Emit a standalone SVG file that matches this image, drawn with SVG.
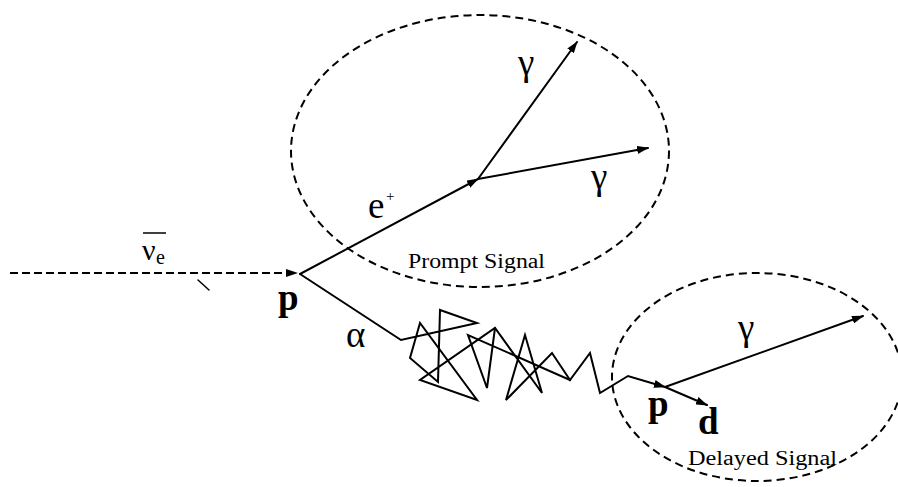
<svg xmlns="http://www.w3.org/2000/svg" width="898" height="487" viewBox="0 0 898 487">
<style>
.ln{fill:none;stroke:#000;stroke-width:2;stroke-linejoin:miter;stroke-linecap:round}
.dash{fill:none;stroke:#000;stroke-width:2;stroke-dasharray:8 5}
.lbl{font-family:"Liberation Serif","DejaVu Serif",serif;fill:#000}
.big{font-size:37px}
.small{font-size:20px}
</style>
<defs>
<marker id="ah" viewBox="0 0 12 8" refX="11" refY="4" markerWidth="12" markerHeight="8" markerUnits="userSpaceOnUse" orient="auto">
<path d="M0,0 L12,4 L0,8 Z" fill="#000"/>
</marker>
</defs>
<rect width="898" height="487" fill="#fff"/>
<g id="prompt-region">
<ellipse class="dash" cx="480" cy="151" rx="189" ry="136"/>
<text class="lbl small" x="408" y="268" textLength="137" lengthAdjust="spacingAndGlyphs">Prompt Signal</text>
</g>
<g id="delayed-region">
<ellipse class="dash" cx="757" cy="377" rx="145" ry="104"/>
<text class="lbl small" x="688" y="465" textLength="149" lengthAdjust="spacingAndGlyphs">Delayed Signal</text>
</g>
<g id="connectors">
<line x1="10" y1="273" x2="297" y2="273" class="ln" style="stroke-dasharray:8 4;stroke-linecap:butt" marker-end="url(#ah)"/>
<line x1="198" y1="280" x2="209" y2="290" class="ln" style="stroke-width:1.5"/>
<line x1="300" y1="274" x2="478" y2="179" class="ln" marker-end="url(#ah)"/>
<line x1="478" y1="179" x2="577" y2="42" class="ln" marker-end="url(#ah)"/>
<line x1="478" y1="179" x2="648" y2="148" class="ln" marker-end="url(#ah)"/>
<polyline class="ln" points="300,274 401,340 477,323 440,310 438,382 410,358 420,323 477,400 420,380 495,328 542,393 525,335 506,400 552,353 570,380 590,353 600,393 628,376 665,387" marker-end="url(#ah)"/>
<polyline class="ln" points="495,328 487,388 468,335 570,380"/>
<line x1="665" y1="387" x2="707" y2="405" class="ln" marker-end="url(#ah)"/>
<line x1="665" y1="387" x2="863" y2="316" class="ln" marker-end="url(#ah)"/>
</g>
<g id="neutrino">
<text class="lbl" x="142" y="260" style="font-size:30px">ν</text>
<text class="lbl" x="156" y="264" style="font-size:20px">e</text>
<line x1="143" y1="233" x2="166" y2="233" stroke="#000" stroke-width="1.5"/>
</g>
<g id="proton">
<text class="lbl big" x="278" y="310" font-weight="bold">p</text>
</g>
<g id="positron">
<text class="lbl big" x="368" y="218">e</text>
<text class="lbl" x="386" y="201" style="font-size:15px">+</text>
</g>
<g id="gamma1"><text class="lbl big" x="518" y="75">γ</text></g>
<g id="gamma2"><text class="lbl big" x="591" y="189">γ</text></g>
<g id="alpha"><text class="lbl big" x="346" y="347">α</text></g>
<g id="proton2"><text class="lbl big" x="648" y="416" font-weight="bold">p</text></g>
<g id="deuteron"><text class="lbl big" x="698" y="434" font-weight="bold">d</text></g>
<g id="gamma3"><text class="lbl big" x="738" y="340">γ</text></g>
</svg>
